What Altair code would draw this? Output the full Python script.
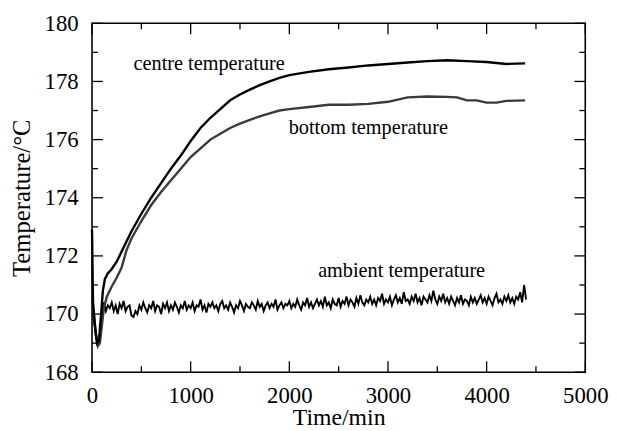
import altair as alt
import pandas as pd

# ---- data ----
centre_t = [0, 10, 30, 50, 70, 90, 110, 130, 160, 200, 250, 300, 350, 400, 450, 500,
            600, 700, 800, 900, 1000, 1100, 1200, 1300, 1400, 1500, 1600, 1700, 1800,
            1900, 2000, 2200, 2400, 2600, 2800, 3000, 3200, 3400, 3600, 3800, 4000,
            4200, 4390]
centre_T = [172.9, 170.4, 169.6, 169.0, 169.1, 169.9, 170.8, 171.2, 171.4, 171.55, 171.8,
            172.15, 172.5, 172.85, 173.15, 173.45, 174.0, 174.5, 175.0, 175.45, 175.95,
            176.4, 176.75, 177.05, 177.35, 177.55, 177.72, 177.87, 178.0, 178.12, 178.22,
            178.33, 178.42, 178.48, 178.55, 178.6, 178.65, 178.7, 178.73, 178.7, 178.67,
            178.6, 178.62]

bottom_t = [0, 20, 40, 60, 80, 100, 120, 150, 200, 250, 300, 350, 400, 500, 600, 700,
            800, 900, 1000, 1100, 1200, 1300, 1400, 1500, 1600, 1700, 1800, 1900, 2000,
            2200, 2400, 2600, 2800, 3000, 3200, 3400, 3600, 3700, 3800, 3900, 4000, 4100,
            4200, 4390]
bottom_T = [170.5, 169.9, 169.3, 168.9, 169.0, 169.6, 170.2, 170.6, 170.95, 171.25, 171.6,
            172.2, 172.6, 173.2, 173.75, 174.2, 174.6, 175.0, 175.4, 175.7, 176.0, 176.2,
            176.4, 176.55, 176.68, 176.8, 176.9, 177.0, 177.05, 177.12, 177.2, 177.2,
            177.23, 177.3, 177.45, 177.48, 177.47, 177.45, 177.35, 177.35, 177.27, 177.27,
            177.33, 177.35]

ambient_T = [
    170.5, 169.8, 169.2, 169.0, 169.3, 170.1, 170.4, 170.1, 170.3, 170.2,
    170.4, 170.1, 170.3, 170.0, 170.35, 170.2, 170.45, 170.1, 170.25, 170.3,
    169.95, 169.9, 170.1, 170.0, 170.3, 170.15, 170.4, 170.2, 170.05, 170.3,
    170.2, 170.45, 170.1, 170.3, 170.25, 170.0, 170.35, 170.2, 170.4, 170.1,
    170.3, 170.15, 170.4, 170.25, 170.05, 170.3, 170.2, 170.45, 170.15, 170.3,
    170.2, 170.4, 170.1, 170.3, 170.25, 170.5, 170.15, 170.3, 170.05, 170.35,
    170.25, 170.4, 170.2, 170.3, 170.1, 170.35, 170.45, 170.2, 170.3, 170.15,
    170.4, 170.25, 170.05, 170.3, 170.2, 170.45, 170.3, 170.1, 170.35, 170.25,
    170.2, 170.4, 170.3, 170.15, 170.45, 170.25, 170.35, 170.1, 170.3, 170.4,
    170.2, 170.35, 170.25, 170.5, 170.15, 170.3, 170.4, 170.2, 170.35, 170.3,
    170.45, 170.2, 170.35, 170.25, 170.5, 170.3, 170.15, 170.4, 170.3, 170.55,
    170.25, 170.4, 170.2, 170.35, 170.5, 170.3, 170.45, 170.25, 170.6, 170.3,
    170.4, 170.2, 170.5, 170.35, 170.3, 170.55, 170.25, 170.45, 170.35, 170.6,
    170.3, 170.5, 170.4, 170.25, 170.55, 170.35, 170.65, 170.4, 170.3, 170.5,
    170.4, 170.6, 170.35, 170.5, 170.3, 170.55, 170.45, 170.7, 170.35, 170.5,
    170.4, 170.6, 170.3, 170.5, 170.65, 170.4, 170.55, 170.35, 170.75, 170.45,
    170.5, 170.35, 170.6, 170.45, 170.7, 170.4, 170.55, 170.3, 170.6, 170.5,
    170.4, 170.65, 170.45, 170.8, 170.5, 170.35, 170.6, 170.45, 170.7, 170.4,
    170.55, 170.35, 170.6, 170.45, 170.3, 170.55, 170.4, 170.65, 170.35, 170.5,
    170.45, 170.3, 170.6, 170.4, 170.55, 170.35, 170.5, 170.65, 170.4, 170.55,
    170.35, 170.6, 170.45, 170.3, 170.55, 170.7, 170.4, 170.5, 170.35, 170.6,
    170.45, 170.65, 170.4, 170.55, 170.35, 170.6, 170.5, 170.75, 170.4, 171.0,
    170.5]
ambient_t = [i * 20 for i in range(len(ambient_T))]

label_text = ["centre temperature", "bottom temperature", "ambient temperature"]
label_t = [421, 1994, 2292]
label_T = [178.4, 176.19, 171.26]

x_major = [0, 1000, 2000, 3000, 4000, 5000]
x_minor = [500, 1500, 2500, 3500, 4500]
y_major = [168, 170, 172, 174, 176, 178, 180]
y_minor = [169, 171, 173, 175, 177, 179]

W, H = 499, 353
FONT = "'Liberation Serif', 'Times New Roman', Times, serif"

xs = alt.Scale(domain=[0, 5000], nice=False, zero=False)
ys = alt.Scale(domain=[168, 180], nice=False, zero=False)

centre = pd.DataFrame({"t": centre_t, "T": centre_T})
bottom = pd.DataFrame({"t": bottom_t, "T": bottom_T})
ambient = pd.DataFrame({"t": ambient_t, "T": ambient_T})
labels = pd.DataFrame({"text": label_text, "t": label_t, "T": label_T})

x_enc = alt.X("t:Q", scale=xs,
              axis=alt.Axis(title="Time/min", values=x_major, format="d",
                            labelFontSize=23, titleFontSize=24, labelFont=FONT,
                            titleFont=FONT, labelColor="black", titleColor="black",
                            ticks=False, domain=False, grid=False, labelPadding=13,
                            titlePadding=-2, labelFlush=False, titleFontWeight="normal"))
y_enc = alt.Y("T:Q", scale=ys,
              axis=alt.Axis(title="Temperature/°C", values=y_major, format="d",
                            labelFontSize=23, titleFontSize=25, labelFont=FONT,
                            titleFont=FONT, labelColor="black", titleColor="black",
                            ticks=False, domain=False, grid=False, labelPadding=14,
                            titlePadding=10, labelFlush=False, titleFontWeight="normal"))

amb_line = alt.Chart(ambient).mark_line(color="black", strokeWidth=1.9).encode(x=x_enc, y=y_enc)
bot_line = alt.Chart(bottom).mark_line(color="#3a3a3a", strokeWidth=2.4).encode(
    x=alt.X("t:Q", scale=xs), y=alt.Y("T:Q", scale=ys))
cen_line = alt.Chart(centre).mark_line(color="black", strokeWidth=2.4).encode(
    x=alt.X("t:Q", scale=xs), y=alt.Y("T:Q", scale=ys))

txt = alt.Chart(labels).mark_text(align="left", baseline="alphabetic", font=FONT,
                                  fontSize=20.5, color="black").encode(
    x=alt.X("t:Q", scale=xs), y=alt.Y("T:Q", scale=ys), text="text:N")

# inward ticks
def xticks(vals, length):
    d = pd.DataFrame({"v": vals})
    b = alt.Chart(d).mark_rule(color="black", strokeWidth=1.3).encode(
        x=alt.X("v:Q", scale=xs), y=alt.value(H), y2=alt.value(H - length))
    t = alt.Chart(d).mark_rule(color="black", strokeWidth=1.3).encode(
        x=alt.X("v:Q", scale=xs), y=alt.value(0), y2=alt.value(length))
    return b + t

def yticks(vals, length):
    d = pd.DataFrame({"v": vals})
    l = alt.Chart(d).mark_rule(color="black", strokeWidth=1.3).encode(
        y=alt.Y("v:Q", scale=ys), x=alt.value(0), x2=alt.value(length))
    r = alt.Chart(d).mark_rule(color="black", strokeWidth=1.3).encode(
        y=alt.Y("v:Q", scale=ys), x=alt.value(W), x2=alt.value(W - length))
    return l + r

chart = alt.layer(
    amb_line, bot_line, cen_line, txt,
    xticks(x_major, 11), xticks(x_minor, 6), yticks(y_major, 11), yticks(y_minor, 6),
).properties(
    width=W, height=H,
    autosize=alt.AutoSizeParams(type="none"),
    padding={"left": 85, "top": 13, "right": 24, "bottom": 56},
    background="white",
).configure_view(stroke="black", strokeWidth=1.6)

chart.save("out.html", embed_options={"renderer": "svg", "actions": False})
